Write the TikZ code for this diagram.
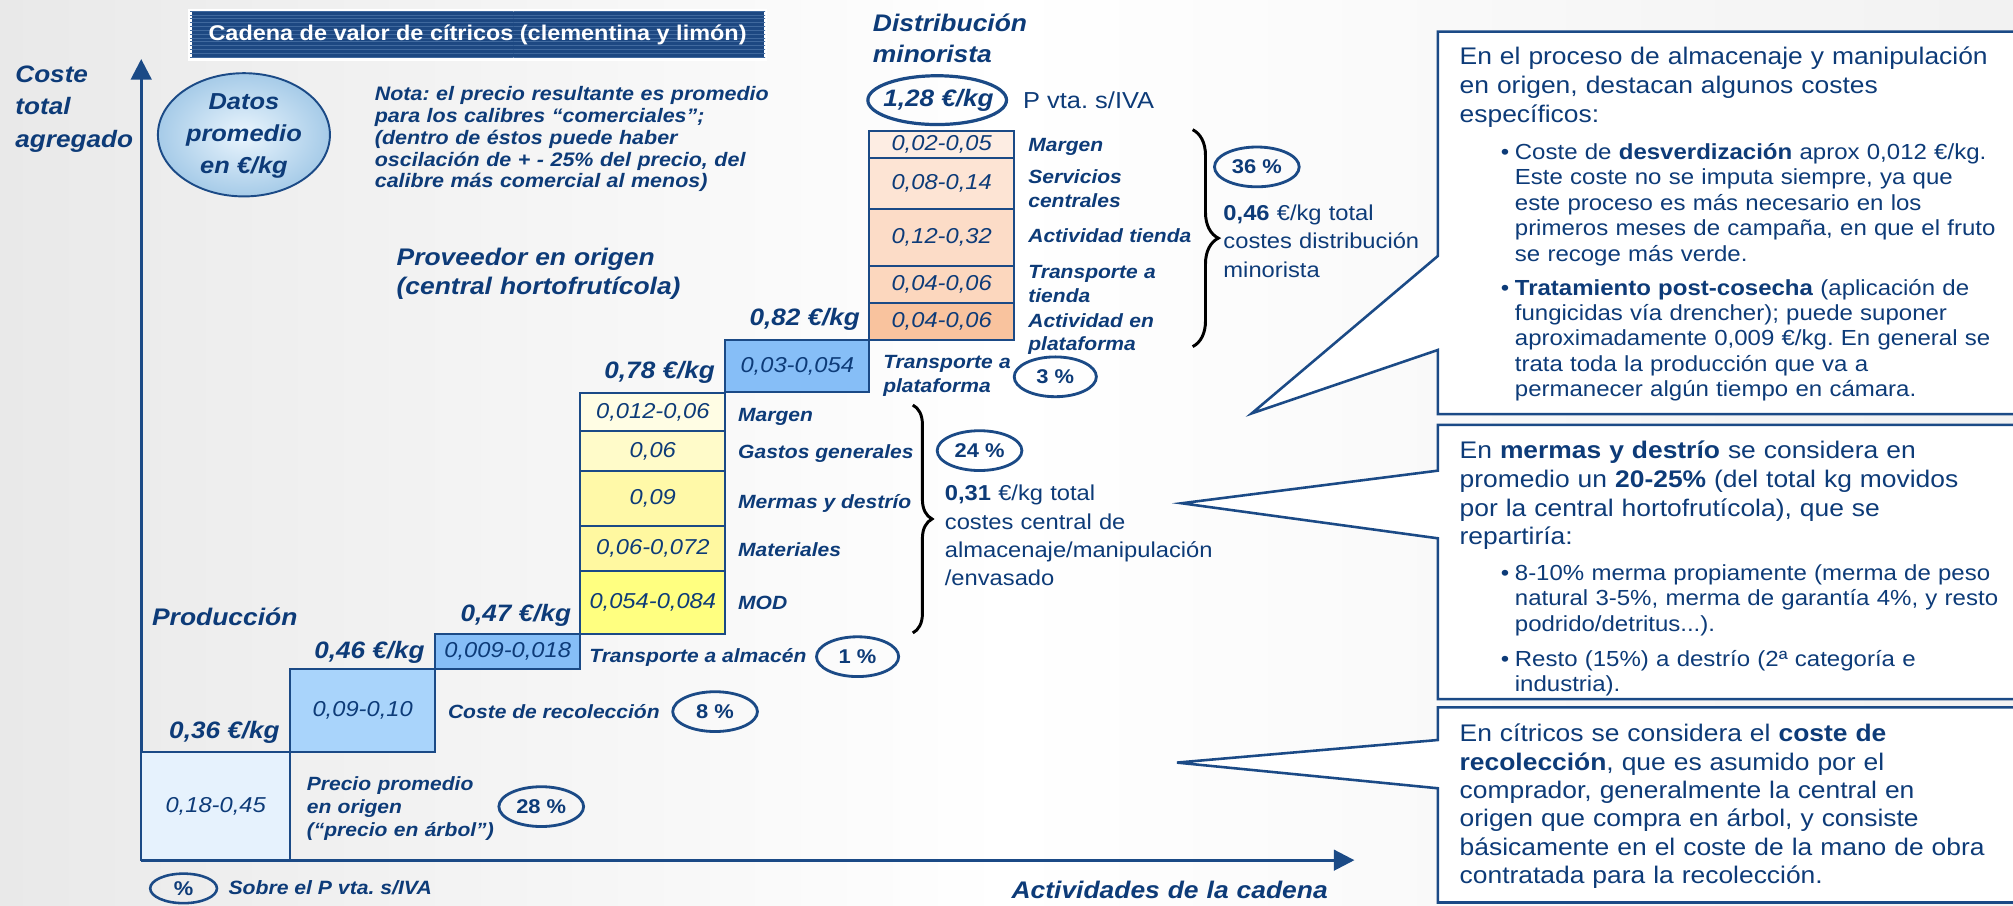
\documentclass[tikz,border=0pt]{standalone}
\usepackage{fontspec}
\setmainfont[FakeStretch=1.1]{Liberation Sans}
\usetikzlibrary{shapes.geometric,arrows.meta,decorations.pathreplacing,patterns}
\definecolor{navy}{HTML}{0D3B78}
\definecolor{lnavy}{HTML}{1B4A86}
\definecolor{titlebg}{HTML}{1D4882}
\definecolor{titleln}{HTML}{40699E}
\definecolor{r1c}{HTML}{FDEDE3}
\definecolor{r2c}{HTML}{FDE4D4}
\definecolor{r3c}{HTML}{FCDCC7}
\definecolor{r4c}{HTML}{FCD7BE}
\definecolor{r5c}{HTML}{F9C39E}
\definecolor{y1c}{HTML}{FFFDE4}
\definecolor{y2c}{HTML}{FFFBC9}
\definecolor{y3c}{HTML}{FFF9A8}
\definecolor{y4c}{HTML}{FFF8A0}
\definecolor{y5c}{HTML}{FFFF80}
\definecolor{b1c}{HTML}{E6F2FD}
\definecolor{b2c}{HTML}{A9D4FB}
\definecolor{b3c}{HTML}{86BEF7}
\definecolor{b4c}{HTML}{86BEF7}
\definecolor{dIn}{HTML}{EAF5FD}
\definecolor{dOut}{HTML}{A6CBE8}
\definecolor{bgL}{HTML}{D3D3D3}
\definecolor{bgR}{HTML}{E4E4E4}
\newcommand{\fsz}[2]{\fontsize{#1}{#2}\selectfont}
\pgfdeclarehorizontalshading{bgshade}{100bp}{color(0bp)=(bgL); color(50bp)=(white); color(100bp)=(bgR)}
\frenchspacing
\begin{document}
\begin{tikzpicture}[x=1pt,y=-1pt,
 txt/.style={inner sep=0pt, outer sep=0pt, text=navy, anchor=base west, align=left},
 hdr/.style={txt, font=\bfseries\itshape\fsz{18.7}{24}},
 price/.style={inner sep=0pt, text=navy, font=\bfseries\itshape\fsz{18.5}{20}, anchor=base east},
 lbl/.style={txt, font=\bfseries\itshape\fsz{14.9}{18.5}},
 vbox/.style={draw=lnavy, line width=1.6pt, inner sep=0pt, outer sep=0pt, anchor=north west, text=navy, font=\itshape\fsz{16.8}{18}},
 pct/.style={ellipse, draw=lnavy, line width=2.2pt, minimum width=66pt, minimum height=31pt, inner sep=0pt, text=navy, font=\bfseries\fsz{15.5}{18}},
 brc/.style={decorate, decoration={brace, amplitude=#1}, line width=2.3pt, draw=black},
 tot/.style={txt, font=\fsz{16.8}{22}},
 body/.style={txt, font=\fsz{18.7}{22.5}},
 bul/.style={txt, font=\fsz{17}{19.8}},
 callout/.style={draw=lnavy, line width=2pt, fill=white, line join=miter},
 axis/.style={draw=lnavy, line width=2.2pt, -{Triangle[length=16pt,width=16pt]}},
 titlebox/.style={rectangle, fill=titlebg, draw=white, line width=2.5pt, minimum width=448pt, minimum height=38pt, text=white, font=\bfseries\fsz{16.6}{18}, postaction={pattern=horizontal lines, pattern color=titleln}}
]
\useasboundingbox (0,0) rectangle (1568,705);
\clip (0,0) rectangle (1568,705);
\shade[shading=bgshade] (0,0) rectangle (1568,705);

% callouts
\draw[callout] (1580,24.7) -- (1120,24.7) -- (1120,199.4) -- (975,322) -- (1120,272.6) -- (1120,322.5) -- (1580,322.5);
\draw[callout] (1580,331) -- (1120,331) -- (1120,366.6) -- (920.4,392) -- (1120,419.3) -- (1120,544.5) -- (1580,544.5);
\draw[callout] (1580,551) -- (1120,551) -- (1120,576.4) -- (916.7,594) -- (1120,614) -- (1120,703) -- (1580,703);

% title
\node[titlebox] (title) at (372,27) {Cadena de valor de cítricos (clementina y limón)};

% axes
\coordinate (O) at (110,670);
\coordinate (YT) at (110,46);
\coordinate (XT) at (1055,670);
\draw[axis] (O) -- (YT);
\draw[axis] (O) -- (XT);

\node[hdr, text width=120pt, font=\bfseries\itshape\fsz{18.5}{25}] (coste) at (12,64.5) {Coste\\total\\agregado};

% datos ellipse
\node[ellipse, draw=lnavy, line width=1.5pt, minimum width=134pt, minimum height=96pt, inner sep=0pt, inner color=dIn, outer color=dOut] (datosE) at (190,105) {};
\node[text=navy, font=\bfseries\itshape\fsz{18}{25}, align=center, inner sep=0pt] (datos) at (190,106) {Datos\\promedio\\en €/kg};

\node[txt, text width=340pt, font=\bfseries\itshape\fsz{15.2}{17}] (nota) at (292,78.3) {Nota: el precio resultante es promedio\\para los calibres “comerciales”;\\(dentro de éstos puede haber\\oscilación de + - 25\% del precio, del\\calibre más comercial al menos)};

% distribucion
\node[hdr, text width=200pt] (distr) at (680,24.5) {Distribución\\minorista};
\node[ellipse, draw=lnavy, line width=2.5pt, minimum width=108pt, minimum height=38pt, inner sep=0pt] (pvE) at (730,78) {};
\node[inner sep=0pt, text=navy, font=\bfseries\itshape\fsz{18.5}{20}] (pv) at (731,78) {1,28 €/kg};
\node[txt, font=\fsz{18}{20}] (pvlbl) at (797,84.3) {P vta. s/IVA};

\node[vbox, fill=r1c, minimum width=113pt, minimum height=21pt] (r1) at (677,102) {0,02-0,05};
\node[vbox, fill=r2c, minimum width=113pt, minimum height=40pt] (r2) at (677,123) {0,08-0,14};
\node[vbox, fill=r3c, minimum width=113pt, minimum height=44pt] (r3) at (677,163) {0,12-0,32};
\node[vbox, fill=r4c, minimum width=113pt, minimum height=29pt] (r4) at (677,207) {0,04-0,06};
\node[vbox, fill=r5c, minimum width=113pt, minimum height=29pt] (r5) at (677,236) {0,04-0,06};

\node[lbl, text width=150pt] (l1) at (801,118.2) {Margen};
\node[lbl, text width=150pt] (l2) at (801,143.2) {Servicios\\centrales};
\node[lbl, text width=160pt] (l3) at (801,189.2) {Actividad tienda};
\node[lbl, text width=150pt] (l4) at (801,217.2) {Transporte a\\tienda};
\node[lbl, text width=150pt, font=\bfseries\itshape\fsz{14.9}{18}] (l5) at (801,255.2) {Actividad en\\plataforma};

\draw[brc=20pt] (929,101) -- (929,270);
\node[pct] (p36) at (979,130) {36 \%};
\node[tot, text width=220pt] (tot1) at (953,171.9) {\textbf{0,46} €/kg total\\costes distribución\\minorista};

% proveedor
\node[hdr, text width=300pt, font=\bfseries\itshape\fsz{18.7}{23}] (prov) at (309,206.5) {Proveedor en origen\\(central hortofrutícola)};

\node[vbox, fill=b4c, minimum width=112pt, minimum height=40pt] (t2) at (565,265) {0,03-0,054};
\node[price] (p082) at (670,253.5) {0,82 €/kg};
\node[lbl, text width=150pt] (l6) at (688,287) {Transporte a\\plataforma};
\node[pct, minimum width=64pt] (p3) at (822,293.5) {3 \%};

\node[vbox, fill=y1c, minimum width=113pt, minimum height=30pt] (y1) at (452,306) {0,012-0,06};
\node[vbox, fill=y2c, minimum width=113pt, minimum height=31pt] (y2) at (452,336) {0,06};
\node[vbox, fill=y3c, minimum width=113pt, minimum height=43pt] (y3) at (452,367) {0,09};
\node[vbox, fill=y4c, minimum width=113pt, minimum height=34.5pt] (y4) at (452,410) {0,06-0,072};
\node[vbox, fill=y5c, minimum width=113pt, minimum height=49.5pt] (y5) at (452,444.5) {0,054-0,084};

\node[lbl] (m1) at (575,328.5) {Margen};
\node[lbl] (m2) at (575,357) {Gastos generales};
\node[lbl] (m3) at (575,396) {Mermas y destrío};
\node[lbl] (m4) at (575,433.6) {Materiales};
\node[lbl] (m5) at (575,475.1) {MOD};
\node[price] (p078) at (557,294.5) {0,78 €/kg};
\draw[brc=15pt] (711,315.5) -- (711,493);
\node[pct] (p24) at (763,351) {24 \%};
\node[tot, text width=240pt] (tot2) at (736,390.2) {\textbf{0,31} €/kg total\\costes central de\\almacenaje/manipulación\\/envasado};

% produccion
\node[hdr, text width=150pt] (prod) at (118.5,487.5) {Producción};
\node[price] (p047) at (445,484) {0,47 €/kg};
\node[vbox, fill=b3c, minimum width=113pt, minimum height=27pt] (b3) at (339,494) {0,009-0,018};
\node[lbl] (tal) at (459,516.2) {Transporte a almacén};
\node[pct, minimum width=64pt] (p1) at (668,511.5) {1 \%};
\node[price] (p046) at (331,512.8) {0,46 €/kg};
\node[vbox, fill=b2c, minimum width=113pt, minimum height=65pt] (b2) at (226,521) {0,09-0,10};
\node[lbl] (crec) at (349,559.5) {Coste de recolección};
\node[pct] (p8) at (557,554.3) {8 \%};
\node[price] (p036) at (218,575) {0,36 €/kg};
\node[vbox, fill=b1c, minimum width=116pt, minimum height=84pt] (b1) at (110,586) {0,18-0,45};
\node[lbl, text width=200pt, font=\bfseries\itshape\fsz{14.9}{18}] (prec) at (239,615.8) {Precio promedio\\en origen\\(“precio en árbol”)};
\node[pct] (p28) at (421.6,628.3) {28 \%};

% legend and x label
\node[pct, minimum width=52pt, minimum height=23pt, line width=2pt] (legE) at (143,692) {\%};
\node[lbl, font=\bfseries\itshape\fsz{15}{18}] (leg) at (178,697) {Sobre el P vta. s/IVA};
\node[hdr, text width=300pt] (xlab) at (788,699.5) {Actividades de la cadena};

% callout texts
\node[body, text width=440pt] (c1) at (1137,50.5) {En el proceso de almacenaje y manipulación\\en origen, destacan algunos costes\\específicos:};
\node[bul] (c1d1) at (1169,124.1) {•};
\node[bul, text width=400pt] (c1b1) at (1180,124.1) {Coste de \textbf{desverdización} aprox 0,012 €/kg.\\Este coste no se imputa siempre, ya que\\este proceso es más necesario en los\\primeros meses de campaña, en que el fruto\\se recoge más verde.};
\node[bul] (c1d2) at (1169,229.8) {•};
\node[bul, text width=400pt] (c1b2) at (1180,229.8) {\textbf{Tratamiento post-cosecha} (aplicación de\\fungicidas vía drencher); puede suponer\\aproximadamente 0,009 €/kg. En general se\\trata toda la producción que va a\\permanecer algún tiempo en cámara.};

\node[body, text width=440pt, font=\fsz{18.7}{22.3}] (c2) at (1137,357.5) {En \textbf{mermas y destrío} se considera en\\promedio un \textbf{20-25\%} (del total kg movidos\\por la central hortofrutícola), que se\\repartiría:};
\node[bul] (c2d1) at (1169,452) {•};
\node[bul, text width=400pt] (c2b1) at (1180,452) {8-10\% merma propiamente (merma de peso\\natural 3-5\%, merma de garantía 4\%, y resto\\podrido/detritus...).};
\node[bul] (c2d2) at (1169,518.8) {•};
\node[bul, text width=400pt] (c2b2) at (1180,518.8) {Resto (15\%) a destrío (2ª categoría e\\industria).};

\node[body, text width=440pt, font=\fsz{18.7}{22.1}] (c3) at (1137,577.7) {En cítricos se considera el \textbf{coste de}\\\textbf{recolección}, que es asumido por el\\comprador, generalmente la central en\\origen que compra en árbol, y consiste\\básicamente en el coste de la mano de obra\\contratada para la recolección.};
\end{tikzpicture}
\end{document}
